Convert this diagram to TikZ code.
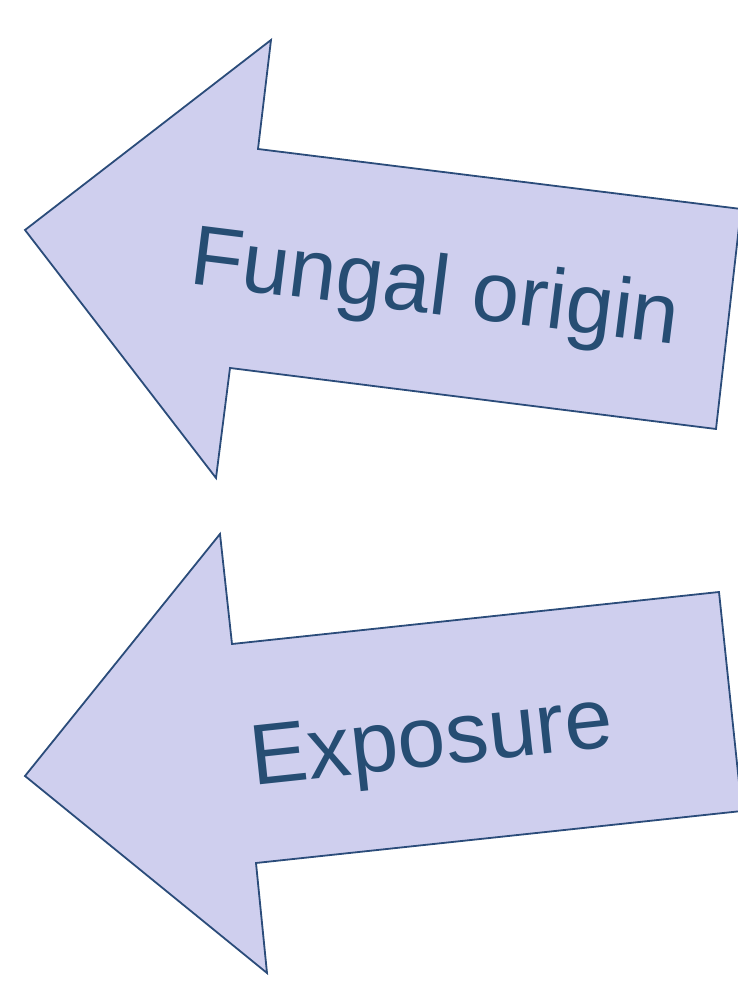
\documentclass[tikz,border=0pt]{standalone}
\usepackage{fontspec}
\setmainfont{Liberation Sans}
\definecolor{arrowfill}{HTML}{CFCFEE}
\definecolor{arrowline}{HTML}{2B4C7A}
\definecolor{labeltext}{HTML}{264D73}
\tikzset{
  bigarrow/.style={fill=arrowfill, draw=arrowline, line width=1.8pt, line join=miter},
  arrowlabel/.style={text=labeltext, inner sep=0pt, anchor=base}
}
\begin{document}
\begin{tikzpicture}[x=1pt,y=1pt]
\useasboundingbox (0,0) rectangle (738,982);
\clip (0,0) rectangle (738,982);
% top arrow
\draw[bigarrow] (25,752) -- (271,942) -- (258,833) -- (741,773) -- (716,553) -- (230,614) -- (216,504) -- cycle;
\node[arrowlabel, font=\fontsize{85}{90}\selectfont, rotate=-7.1] (fungal) at (432,668) {Fungal origin};
% bottom arrow
\draw[bigarrow] (25,206) -- (220,448) -- (232,338) -- (719,390) -- (742,171) -- (256,119) -- (267,9) -- cycle;
\node[arrowlabel, font=\fontsize{86}{90}\selectfont, rotate=6.1] (exposure) at (434,216) {Exposure};
\end{tikzpicture}
\end{document}
